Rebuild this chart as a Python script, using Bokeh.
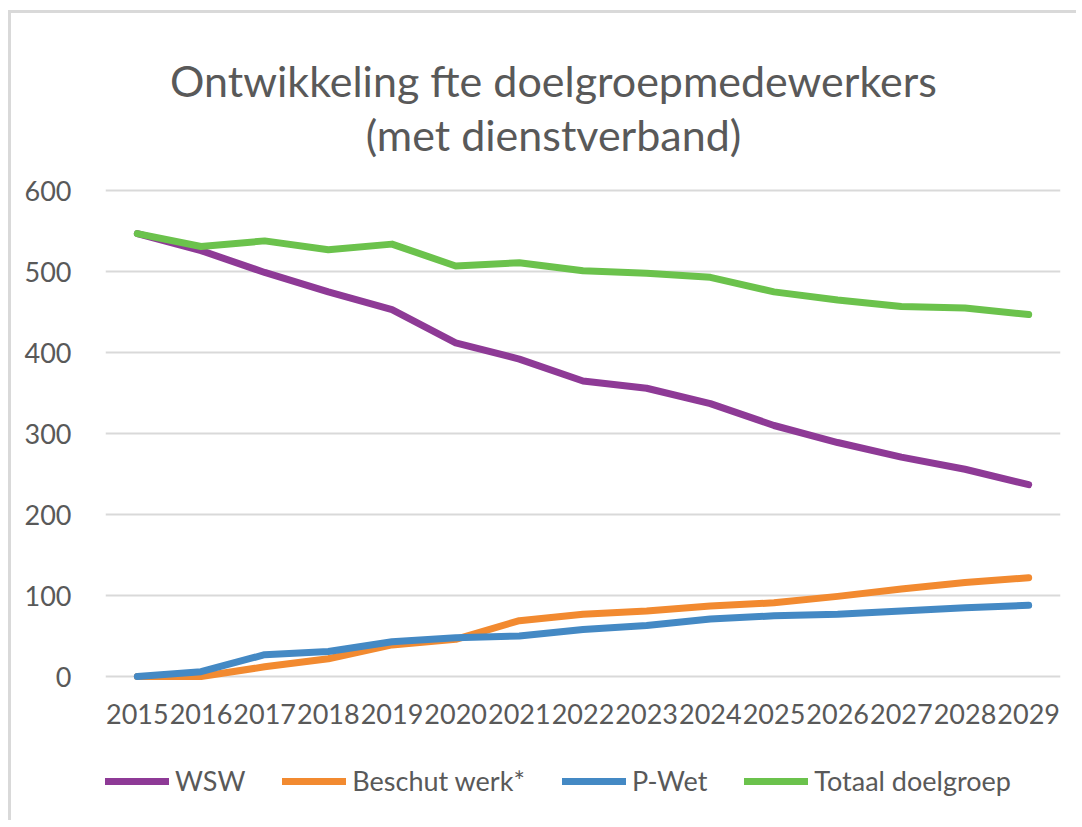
from bokeh.plotting import figure
from bokeh.models import FactorRange, Range1d, FixedTicker, Legend, LegendItem, Label
from bokeh.embed import file_html
from bokeh.resources import INLINE

# ---- data ----
years = ["2015", "2016", "2017", "2018", "2019", "2020", "2021", "2022",
         "2023", "2024", "2025", "2026", "2027", "2028", "2029"]
wsw = [547, 526, 499, 475, 453, 412, 392, 365, 356, 337, 310, 289, 271, 256, 237]
beschut = [0, 0, 12, 22, 39, 46, 69, 77, 81, 87, 91, 99, 108, 116, 122]
pwet = [0, 6, 27, 31, 43, 48, 50, 58, 63, 71, 75, 77, 81, 85, 88]
totaal = [547, 531, 538, 527, 534, 507, 511, 501, 498, 493, 475, 465, 457, 455, 447]
series_names = ["WSW", "Beschut werk*", "P-Wet", "Totaal doelgroep"]
y_ticks = [0, 100, 200, 300, 400, 500, 600]
title_lines = ["Ontwikkeling fte doelgroepmedewerkers", "(met dienstverband)"]

FONT = "Lato"
GRAY = "#595959"
colors = ["#8E3A96", "#F28A30", "#4489C4", "#6BC24C"]

# The plot frame covers the whole canvas height, so that title and legend
# (drawn inside the frame) are not clipped; the value axis only labels 0..600.
p = figure(
    x_range=FactorRange(factors=years, range_padding=0),
    y_range=Range1d(-181.5, 818.8),
    width=1068, height=810,
    output_backend="svg", toolbar_location=None, title=None,
    min_border_left=94, min_border_right=19, min_border_top=0, min_border_bottom=0,
    styles={"margin-left": "8px", "margin-top": "10px",
            "border-left": "3px solid #d9d9d9", "border-top": "3px solid #d9d9d9"},
)
p.outline_line_color = None
p.background_fill_color = "white"
p.border_fill_color = "white"

renderers = []
for vals, col in zip([wsw, beschut, pwet, totaal], colors):
    r = p.line(years, vals, line_color=col, line_width=7, line_cap="round", line_join="round")
    renderers.append(r)

# axes
p.yaxis.ticker = FixedTicker(ticks=y_ticks)
for ax in (p.xaxis[0], p.yaxis[0]):
    ax.axis_line_color = None
    ax.major_tick_line_color = None
    ax.minor_tick_line_color = None
    ax.major_label_text_font = FONT
    ax.major_label_text_font_size = "27px"
    ax.major_label_text_color = GRAY
p.yaxis.major_label_standoff = 28
p.xaxis.major_label_standoff = 21
p.xaxis.fixed_location = 0

p.xgrid.grid_line_color = None
p.ygrid.ticker = FixedTicker(ticks=y_ticks)
p.ygrid.grid_line_color = "#D9D9D9"
p.ygrid.grid_line_width = 2

# title lines (screen units, measured from the frame's bottom-left corner)
for txt, yy in zip(title_lines, [743, 689]):
    p.add_layout(Label(x=448, y=yy, x_units="screen", y_units="screen", text=txt,
                       text_align="center", text_baseline="alphabetic",
                       text_font=FONT, text_font_size="43px", text_color=GRAY))

legend = Legend(
    items=[LegendItem(label=n, renderers=[r]) for n, r in zip(series_names, renderers)],
    orientation="horizontal", location=(0, 26),
    glyph_width=64, glyph_height=20, label_standoff=6, spacing=37,
    padding=0, margin=0, border_line_color=None, background_fill_alpha=0,
    label_text_font=FONT, label_text_font_size="27px", label_text_color=GRAY,
)
p.add_layout(legend, "center")

open("out.html", "w").write(file_html(p, INLINE))
